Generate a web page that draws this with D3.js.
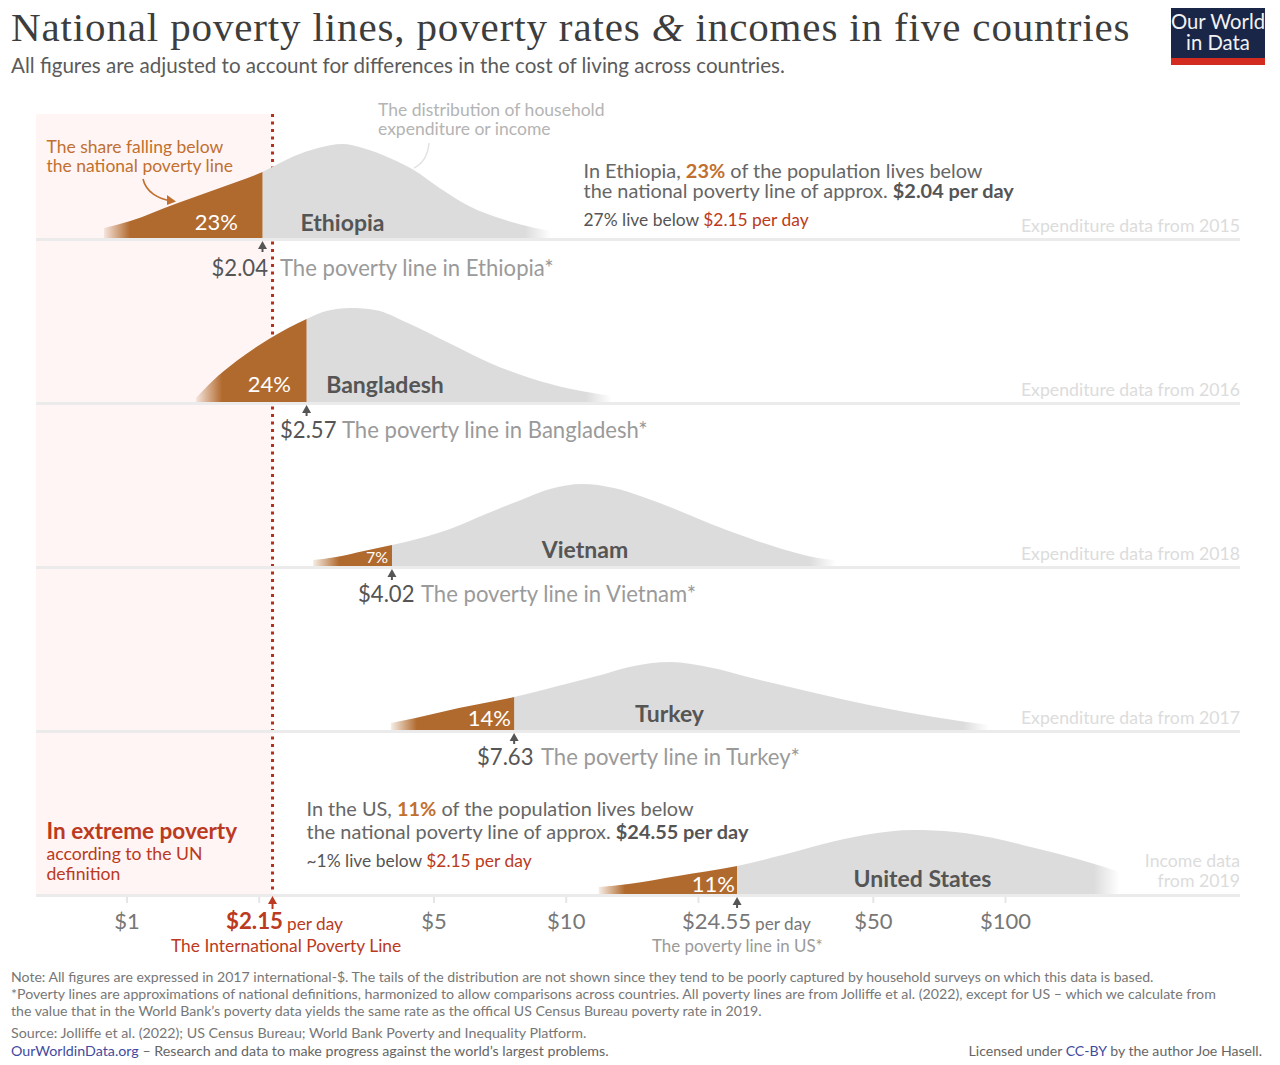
<!DOCTYPE html>
<html lang="en">
<head>
<meta charset="UTF-8">
<title>National poverty lines, poverty rates & incomes in five countries</title>
<script src="https://d3js.org/d3.v7.min.js"></script>
<style>
    body { margin: 0; background: #fff; }
    text { font-family: Lato, sans-serif; }
    .tick text { font-family: Lato, sans-serif; }
</style>
</head>
<body>
<svg id="chart" width="1280" height="1065"></svg>
<script>
// Data: income in $/day, density in relative units
const countries = ["Ethiopia", "Bangladesh", "Vietnam", "Turkey", "United States"];
const povertyLines = [2.04, 2.57, 4.02, 7.63, 24.55];
const shares = ["23%", "24%", "7%", "14%", "11%"];
const axisTicks = [1, 2, 5, 10, 20, 50, 100];
const labelledTicks = [1, 5, 10, 50, 100];
const internationalLine = 2.15;

const ethiopiaIncome = [0.889, 1.02, 1.29, 1.63, 2.04, 2.41, 2.73, 3.1, 3.45, 4.02, 4.47, 5.2, 6.02, 7.16, 8.51, 9.26];
const ethiopiaDensity = [0.11, 0.18, 0.35, 0.51, 0.67, 0.83, 0.91, 0.95, 0.91, 0.80, 0.70, 0.50, 0.33, 0.20, 0.11, 0.08];
const bangladeshIncome = [1.44, 1.57, 1.78, 2.11, 2.57, 2.85, 3.23, 3.68, 4.37, 5.42, 6.72, 8.29, 10.28, 12.74];
const bangladeshDensity = [0.05, 0.22, 0.42, 0.64, 0.84, 0.92, 0.95, 0.93, 0.80, 0.60, 0.40, 0.25, 0.14, 0.07];
const vietnamIncome = [2.66, 3.0, 3.47, 4.02, 4.68, 5.45, 6.58, 7.91, 9.21, 10.89, 12.88, 15.0, 17.73, 21.41, 25.73, 31.07, 37.5, 41.2];
const vietnamDensity = [0.07, 0.10, 0.16, 0.22, 0.29, 0.38, 0.53, 0.67, 0.78, 0.83, 0.79, 0.70, 0.58, 0.43, 0.30, 0.18, 0.09, 0.07];
const turkeyIncome = [4.0, 4.55, 5.71, 7.63, 9.6, 12.03, 13.94, 17.37, 21.08, 27.11, 36.94, 50.3, 68.9, 91.9];
const turkeyDensity = [0.08, 0.13, 0.23, 0.34, 0.45, 0.56, 0.64, 0.69, 0.64, 0.52, 0.38, 0.25, 0.14, 0.06];
const usIncome = [11.89, 13.9, 17.98, 24.55, 31.8, 41.1, 49.4, 61.7, 76.9, 94.1, 119.5, 148.9, 182.4];
const usDensity = [0.08, 0.11, 0.19, 0.29, 0.41, 0.54, 0.61, 0.65, 0.63, 0.57, 0.46, 0.35, 0.23];

const allIncome = [ethiopiaIncome, bangladeshIncome, vietnamIncome, turkeyIncome, usIncome];
const allDensity = [ethiopiaDensity, bangladeshDensity, vietnamDensity, turkeyDensity, usDensity];

const dataNotes = ["Expenditure data from 2015", "Expenditure data from 2016", "Expenditure data from 2018", "Expenditure data from 2017"];

// Colours
const brown = "#b16a2e", brownText = "#c1702f", grey = "#dcdcdc", red = "#bb3a20";
const darkText = "#555", midText = "#9a9a9a", faintText = "#dcdcdc";

const svg = d3.select("#chart");
const defs = svg.append("defs");

const x = d3.scaleLog().domain([1, 100]).range([126.5, 1005]);
const baselines = [239, 403, 567, 731, 895];

// Text helper: parts are [string, {attrs}] pairs or plain strings
function label(px, py, parts, opts) {
    opts = opts || {};
    const t = svg.append("text").attr("x", px).attr("y", py)
        .attr("font-size", opts.size || 18)
        .attr("fill", opts.fill || darkText)
        .attr("font-weight", opts.weight || 400)
        .attr("text-anchor", opts.anchor || "start");
    if (opts.family) t.style("font-family", opts.family);
    if (opts.spacing) t.attr("letter-spacing", opts.spacing);
    [].concat(parts).forEach(p => {
        if (typeof p === "string") t.append("tspan").text(p);
        else {
            const s = t.append("tspan").text(p.t);
            if (p.fill) s.attr("fill", p.fill);
            if (p.weight) s.attr("font-weight", p.weight);
            if (p.size) s.attr("font-size", p.size);
            if (p.style) s.attr("font-style", p.style);
        }
    });
    return t;
}

function upArrow(px, yTop, yBottom, colour) {
    svg.append("line").attr("x1", px).attr("x2", px).attr("y1", yTop + 4).attr("y2", yBottom)
        .attr("stroke", colour).attr("stroke-width", 2);
    svg.append("path").attr("d", `M${px - 4.5},${yTop + 8}L${px},${yTop}L${px + 4.5},${yTop + 8}Z`).attr("fill", colour);
}

// Pink extreme poverty band
svg.append("rect").attr("x", 36).attr("y", 114)
    .attr("width", x(internationalLine) - 36).attr("height", 781)
    .attr("fill", "#fff5f5");

// International poverty line, the distributions sit on top of it
svg.append("line").attr("x1", x(internationalLine)).attr("x2", x(internationalLine))
    .attr("y1", 114).attr("y2", 895)
    .attr("stroke", "#b5301c").attr("stroke-width", 3).attr("stroke-dasharray", "3 4.5");

// Distributions
countries.forEach((name, i) => {
    const base = baselines[i];
    const y = d3.scaleLinear().domain([0, 1]).range([base, base - 100]);
    const income = allIncome[i], density = allDensity[i];
    const pts = income.map((v, j) => [v, density[j]]);
    const area = d3.area().x(d => x(d[0])).y0(y(0)).y1(d => y(d[1])).curve(d3.curveMonotoneX);
    const cut = x(povertyLines[i]);
    const left = x(income[0]), right = x(income[income.length - 1]);

    defs.append("clipPath").attr("id", "below" + i).append("rect")
        .attr("x", 0).attr("y", base - 110).attr("width", cut).attr("height", 110);
    defs.append("clipPath").attr("id", "above" + i).append("rect")
        .attr("x", cut).attr("y", base - 110).attr("width", 1280 - cut).attr("height", 110);

    const brownFade = defs.append("linearGradient").attr("id", "fadeBrown" + i)
        .attr("gradientUnits", "userSpaceOnUse")
        .attr("x1", left).attr("x2", left + 26).attr("y1", 0).attr("y2", 0);
    brownFade.append("stop").attr("offset", 0).attr("stop-color", brown).attr("stop-opacity", 0.12);
    brownFade.append("stop").attr("offset", 1).attr("stop-color", brown).attr("stop-opacity", 1);

    const greyFade = defs.append("linearGradient").attr("id", "fadeGrey" + i)
        .attr("gradientUnits", "userSpaceOnUse")
        .attr("x1", right - 26).attr("x2", right).attr("y1", 0).attr("y2", 0);
    greyFade.append("stop").attr("offset", 0).attr("stop-color", grey).attr("stop-opacity", 1);
    greyFade.append("stop").attr("offset", 1).attr("stop-color", grey).attr("stop-opacity", 0);

    svg.append("path").datum(pts).attr("d", area)
        .attr("fill", `url(#fadeGrey${i})`).attr("clip-path", `url(#above${i})`);
    svg.append("path").datum(pts).attr("d", area)
        .attr("fill", `url(#fadeBrown${i})`).attr("clip-path", `url(#below${i})`);

    svg.append("line").attr("x1", 36).attr("x2", 1240)
        .attr("y1", base + 0.5).attr("y2", base + 0.5)
        .attr("stroke", "#ebebeb").attr("stroke-width", 3);
});

// Axis along the last baseline
const axis = svg.append("g").attr("transform", `translate(0,${baselines[4] + 2})`)
    .call(d3.axisBottom(x).tickValues(axisTicks).tickSize(6).tickPadding(10)
        .tickFormat(d => labelledTicks.includes(d) ? "$" + d : ""));
axis.select(".domain").remove();
axis.selectAll(".tick line").attr("stroke", "#e6e6e6").attr("stroke-width", 2);
axis.selectAll(".tick text").attr("font-size", 22).attr("fill", "#777");

upArrow(x(internationalLine), 896, 909, red);

// Poverty line arrows
countries.forEach((name, i) => {
    upArrow(x(povertyLines[i]), baselines[i] + 2, baselines[i] + 13, "#555");
});

// Title block
label(11, 41, ["National poverty lines, poverty rates ", { t: "&", style: "italic" }, " incomes in five countries"],
    { size: 41, fill: "#3d3d3d", family: "'Liberation Serif', serif", spacing: 0.86 });
label(11, 73, "All figures are adjusted to account for differences in the cost of living across countries.",
    { size: 20.6, fill: "#5b5b5b" });

// Logo
svg.append("rect").attr("x", 1171).attr("y", 8).attr("width", 94).attr("height", 57).attr("fill", "#1a2648");
svg.append("rect").attr("x", 1171).attr("y", 58).attr("width", 94).attr("height", 7).attr("fill", "#d42b21");
label(1218, 29, "Our World", { size: 20.3, fill: "#f2f2f2", anchor: "middle" });
label(1218, 50, "in Data", { size: 20.3, fill: "#f2f2f2", anchor: "middle" });

// Ethiopia annotations
label(378, 116, "The distribution of household", { size: 17.5, fill: "#b4b4b4" });
label(378, 135, "expenditure or income", { size: 17.5, fill: "#b4b4b4" });
svg.append("path").attr("d", "M429,143C428,155 424,163 414,168").attr("fill", "none").attr("stroke", "#e2e2e2").attr("stroke-width", 1.5);

label(46.5, 153, "The share falling below", { size: 17.5, fill: brownText });
label(46.5, 172, "the national poverty line", { size: 17.5, fill: brownText });
svg.append("path").attr("d", "M143,179C146,192 158,199 172,201").attr("fill", "none").attr("stroke", brownText).attr("stroke-width", 1.6);
svg.append("path").attr("d", "M167,195L176,201.5L167,205Z").attr("fill", brownText);

label(583.5, 178, ["In Ethiopia, ", { t: "23%", fill: brownText, weight: 700 }, " of the population lives below"], { size: 19.9, fill: "#666" });
label(583.5, 198, ["the national poverty line of approx. ", { t: "$2.04 per day", fill: darkText, weight: 700 }], { size: 19.9, fill: "#666" });
label(583.5, 226, ["27% live below ", { t: "$2.15 per day", fill: red }], { size: 17.4, fill: darkText });

// Share and name labels in the distributions
const shareEnds = [238, 291, 388, 511, 735];
const shareY = [230, 392, 563, 726, 892];
shares.forEach((s, i) => label(shareEnds[i], shareY[i], s, { size: i === 2 ? 16 : 22, fill: "#fff", anchor: "end" }));

const nameX = [342.5, 385, 585, 669.5, 922.5];
const nameY = [231, 393, 558, 722, 887];
countries.forEach((c, i) => label(nameX[i], nameY[i], c, { size: 23, fill: darkText, weight: 700, anchor: "middle" }));

// Data notes on the right
const noteY = [232, 396, 560, 724];
dataNotes.forEach((n, i) => label(1240, noteY[i], n, { size: 17.7, fill: faintText, anchor: "end" }));
label(1240, 867, "Income data", { size: 17.7, fill: faintText, anchor: "end" });
label(1240, 887, "from 2019", { size: 17.7, fill: faintText, anchor: "end" });

// Poverty line captions
label(268, 276, "$2.04", { size: 22.1, anchor: "end" });
label(280, 276, "The poverty line in Ethiopia*", { size: 22.1, fill: midText });
label(280, 438, "$2.57", { size: 22.1 });
label(342, 438, "The poverty line in Bangladesh*", { size: 22.1, fill: midText });
label(358, 602, "$4.02", { size: 22.1 });
label(421, 602, "The poverty line in Vietnam*", { size: 22.1, fill: midText });
label(477, 765, "$7.63", { size: 22.1 });
label(541, 765, "The poverty line in Turkey*", { size: 22.1, fill: midText });

// US annotations
label(306.5, 816, ["In the US, ", { t: "11%", fill: brownText, weight: 700 }, " of the population lives below"], { size: 19.9, fill: "#666" });
label(306.5, 839, ["the national poverty line of approx. ", { t: "$24.55 per day", fill: darkText, weight: 700 }], { size: 19.9, fill: "#666" });
label(306.5, 867, ["~1% live below ", { t: "$2.15 per day", fill: red }], { size: 17.4, fill: darkText });

label(46.5, 839, "In extreme poverty", { size: 22.5, fill: red, weight: 700 });
label(46.5, 860, "according to the UN", { size: 17.6, fill: red });
label(46.5, 880, "definition", { size: 17.6, fill: red });

// Axis special labels
label(226, 929, "$2.15", { size: 22.3, fill: red, weight: 700 });
label(287, 930, "per day", { size: 17.2, fill: red });
label(171, 952, "The International Poverty Line", { size: 17.4, fill: red });
label(682, 929, "$24.55", { size: 22, fill: "#777" });
label(755, 930, "per day", { size: 17.2, fill: "#777" });
label(652, 952, "The poverty line in US*", { size: 16.9, fill: midText });

// Footer
const noteLines = [
    "Note: All figures are expressed in 2017 international-$. The tails of the distribution are not shown since they tend to be poorly captured by household surveys on which this data is based.",
    "*Poverty lines are approximations of national definitions, harmonized to allow comparisons across countries. All poverty lines are from Jolliffe et al. (2022), except for US \u2013 which we calculate from",
    "the value that in the World Bank\u2019s poverty data yields the same rate as the offical US Census Bureau poverty rate in 2019."
];
const noteLineY = [982, 999, 1016];
const noteLineSize = [14.1, 14.18, 14.13];
noteLines.forEach((n, i) => label(11, noteLineY[i], n, { size: noteLineSize[i], fill: "#777" }));
label(11, 1038, "Source: Jolliffe et al. (2022); US Census Bureau; World Bank Poverty and Inequality Platform.", { size: 14.25, fill: "#777" });
label(11, 1056, [{ t: "OurWorldinData.org", fill: "#3f4ba0" }, " \u2013 Research and data to make progress against the world\u2019s largest problems."], { size: 14.25, fill: "#666" });
label(1262, 1056, ["Licensed under ", { t: "CC-BY", fill: "#3f4ba0" }, " by the author Joe Hasell."], { size: 14.1, fill: "#666", anchor: "end" });
</script>
</body>
</html>
